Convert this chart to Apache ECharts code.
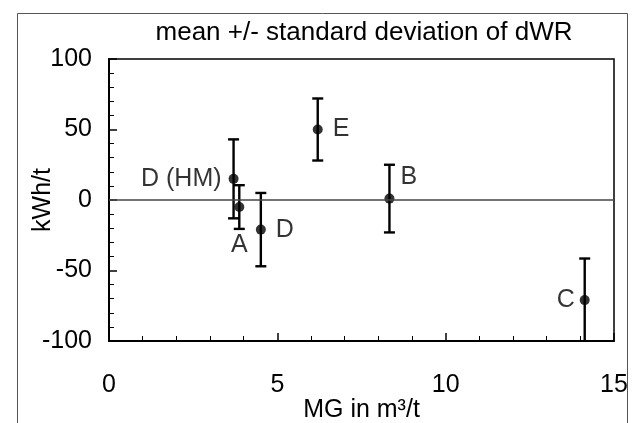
<!DOCTYPE html>
<html>
<head>
<meta charset="utf-8">
<script src="https://cdn.jsdelivr.net/npm/echarts@6/dist/echarts.min.js"></script>
<style>html,body{margin:0;padding:0;background:#fff;}#c{width:632px;height:423px;}</style>
</head>
<body>
<div id="c"></div>
<script>
const names = ['D (HM)', 'A', 'D', 'E', 'B', 'C'];
const mg = [3.70, 3.87, 4.51, 6.20, 8.33, 14.13];
const mean = [15, -5, -21, 50, 1, -71];
const sd = [28, 15.5, 26, 22, 24, 29.5];
const xTicks = [0, 5, 10, 15];
const yTicks = [-100, -50, 0, 50, 100];

const FONT = "'Liberation Sans', Arial, sans-serif";
const FS = 25;
const labelCfg = [
  {position: 'left', distance: 7},
  {position: 'bottom', distance: 21},
  {position: 'right', distance: 10},
  {position: 'right', distance: 10},
  {position: 'right', distance: 6, offset: [0, -21]},
  {position: 'left', distance: 5}
];

const pts = mg.map((x, i) => ({
  value: [x, mean[i]],
  name: names[i],
  label: Object.assign({show: true, formatter: names[i], color: '#000', fontSize: FS, fontFamily: FONT}, labelCfg[i])
}));
const bars = mg.map((x, i) => [x, mean[i] - sd[i], mean[i] + sd[i]]);

const chart = echarts.init(document.getElementById('c'), null, {renderer: 'canvas'});
chart.setOption({
  animation: false,
  backgroundColor: '#fff',
  title: {
    text: 'mean +/- standard deviation of dWR',
    left: 359, top: 15, textAlign: 'center',
    textStyle: {fontFamily: FONT, fontSize: 26, fontWeight: 'normal', color: '#000'}
  },
  graphic: [{
    type: 'rect', left: 15, top: 11, silent: true,
    shape: {width: 610, height: 430},
    style: {fill: 'none', stroke: '#555', lineWidth: 1}
  }],
  grid: {left: 109, right: 18, top: 59, bottom: 82, outerBoundsMode: 'none', containLabel: false,
    show: true, borderColor: '#000', borderWidth: 1.5, backgroundColor: 'transparent'},
  xAxis: {
    type: 'value', min: 0, max: 15, interval: 5,
    name: 'MG in m³/t', nameLocation: 'middle', nameGap: 57, nameMoveOverlap: false,
    nameTextStyle: {fontFamily: FONT, fontSize: FS, color: '#000'},
    axisLine: {show: true, onZero: false, lineStyle: {color: '#000', width: 2}},
    axisTick: {show: true, inside: true, length: 8, lineStyle: {color: '#000', width: 1.5}},
    minorTick: {show: true, splitNumber: 5, length: 5, lineStyle: {color: '#000', width: 1}},
    splitLine: {show: false},
    axisLabel: {fontFamily: FONT, fontSize: FS, color: '#000', margin: 32,
      formatter: v => xTicks.includes(v) ? String(v) : ''}
  },
  yAxis: {
    type: 'value', min: -100, max: 100, interval: 50,
    name: 'kWh/t', nameLocation: 'middle', nameGap: 53, nameRotate: 90, nameMoveOverlap: false,
    nameTextStyle: {fontFamily: FONT, fontSize: FS, color: '#000'},
    axisLine: {show: true, onZero: false, lineStyle: {color: '#000', width: 2}},
    axisTick: {show: true, inside: true, length: 8, lineStyle: {color: '#000', width: 1.5}},
    minorTick: {show: true, splitNumber: 5, length: 5, lineStyle: {color: '#000', width: 1}},
    splitLine: {show: false},
    axisLabel: {fontFamily: FONT, fontSize: FS, color: '#000', margin: 17,
      formatter: v => yTicks.includes(v) ? String(v) : ''}
  },
  series: [
    {
      type: 'custom',
      clip: true,
      silent: true,
      data: bars,
      encode: {x: 0, y: [1, 2]},
      renderItem: function (params, api) {
        const x = api.value(0);
        const lo = api.coord([x, api.value(1)]);
        const hi = api.coord([x, api.value(2)]);
        const w = 5.5;
        const st = {stroke: '#000', lineWidth: 2.4};
        return {
          type: 'group',
          children: [
            {type: 'line', shape: {x1: lo[0], y1: lo[1], x2: hi[0], y2: hi[1]}, style: st},
            {type: 'line', shape: {x1: lo[0] - w, y1: lo[1], x2: lo[0] + w, y2: lo[1]}, style: st},
            {type: 'line', shape: {x1: hi[0] - w, y1: hi[1], x2: hi[0] + w, y2: hi[1]}, style: st}
          ]
        };
      },
      z: 3
    },
    {
      type: 'scatter',
      data: pts,
      symbol: 'circle',
      symbolSize: 10,
      itemStyle: {color: '#000'},
      z: 4,
      markLine: {
        silent: true, symbol: 'none',
        label: {show: false},
        lineStyle: {color: '#444', width: 1.5, type: 'solid'},
        data: [{yAxis: 0}]
      }
    }
  ]
});
</script>
</body>
</html>
